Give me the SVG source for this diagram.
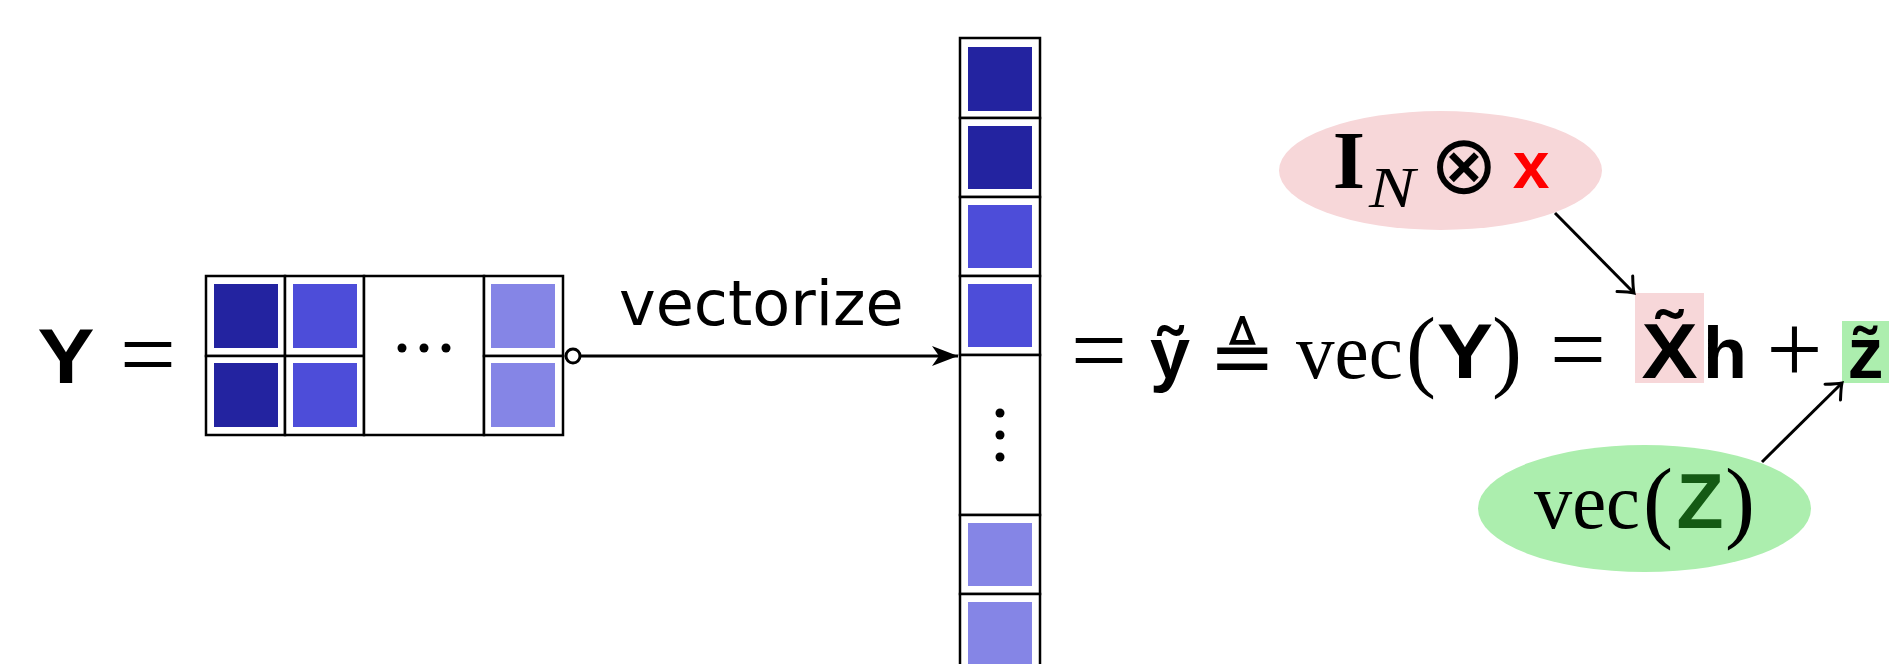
<svg xmlns="http://www.w3.org/2000/svg" width="1896" height="664" viewBox="0 0 1896 664">
<style>
.sb{font-family:"Liberation Sans",Arial,sans-serif;font-weight:bold}
.rm{font-family:"Liberation Serif","Times New Roman",serif}
.op{font-family:"Liberation Serif","Times New Roman",serif;font-size:100px;text-anchor:middle}
.cell{fill:#fff;stroke:#000;stroke-width:2.5}
.d{fill:#2323A0}.m{fill:#4D4DD9}.l{fill:#8585E6}
.dot{fill:#000}
.mid{text-anchor:middle}
</style>
<defs>
<marker id="stealth" markerUnits="userSpaceOnUse" markerWidth="30" markerHeight="24" viewBox="-27 -12 30 24" refX="0" refY="0" orient="auto">
<path d="M0,0 L-26,-10 L-19,0 L-26,10 Z" fill="#000"/>
</marker>
<marker id="to" markerUnits="userSpaceOnUse" markerWidth="20" markerHeight="28" viewBox="-16 -14 20 28" refX="0" refY="0" orient="auto">
<path d="M-13,-11 Q-4,-2.5 0,0 Q-4,2.5 -13,11" fill="none" stroke="#000" stroke-width="3" stroke-linecap="round"/>
</marker>
</defs>
<rect width="1896" height="664" fill="#fff"/>

<g id="lhs">
<text class="sb mid" x="66" y="383" font-size="78" textLength="57" lengthAdjust="spacingAndGlyphs">Y</text>
<text class="op" x="148" y="388">=</text>
</g>

<g id="matrix">
<rect class="cell" x="206" y="276" width="79" height="80"/>
<rect class="cell" x="285" y="276" width="79" height="80"/>
<rect class="cell" x="206" y="356" width="79" height="79"/>
<rect class="cell" x="285" y="356" width="79" height="79"/>
<rect class="cell" x="364" y="276" width="120" height="159"/>
<rect class="cell" x="484" y="276" width="79" height="80"/>
<rect class="cell" x="484" y="356" width="79" height="79"/>
<rect class="d" x="214" y="284" width="64" height="64"/>
<rect class="d" x="214" y="363" width="64" height="64"/>
<rect class="m" x="293" y="284" width="64" height="64"/>
<rect class="m" x="293" y="363" width="64" height="64"/>
<rect class="l" x="491" y="284" width="64" height="64"/>
<rect class="l" x="491" y="363" width="64" height="64"/>
<circle class="dot" cx="402" cy="348" r="4.5"/>
<circle class="dot" cx="424" cy="348" r="4.5"/>
<circle class="dot" cx="446" cy="348" r="4.5"/>
</g>

<g id="label-vectorize">
<text x="619" y="325" font-family="'DejaVu Sans',sans-serif" font-size="62">vectorize</text>
</g>

<g id="column">
<rect class="cell" x="960" y="38" width="80" height="80"/>
<rect class="cell" x="960" y="118" width="80" height="79"/>
<rect class="cell" x="960" y="197" width="80" height="79"/>
<rect class="cell" x="960" y="276" width="80" height="79"/>
<rect class="cell" x="960" y="355" width="80" height="160"/>
<rect class="cell" x="960" y="515" width="80" height="79"/>
<rect class="cell" x="960" y="594" width="80" height="79"/>
<rect class="d" x="968" y="47" width="64" height="64"/>
<rect class="d" x="968" y="126" width="64" height="63"/>
<rect class="m" x="968" y="205" width="64" height="63"/>
<rect class="m" x="968" y="284" width="64" height="63"/>
<rect class="l" x="968" y="523" width="64" height="63"/>
<rect class="l" x="968" y="602" width="64" height="63"/>
<circle class="dot" cx="1000" cy="413" r="4.5"/>
<circle class="dot" cx="1000" cy="435" r="4.5"/>
<circle class="dot" cx="1000" cy="457" r="4.5"/>
</g>

<g id="equation">
<text class="op" x="1099" y="384">=</text>
<text class="sb mid" x="1170" y="378" font-size="72">ỹ</text>
<text class="mid" x="1242" y="384" font-family="'DejaVu Sans',sans-serif" font-size="80">≜</text>
<text class="rm" x="1296" y="378" font-size="78" textLength="107" lengthAdjust="spacingAndGlyphs">vec</text>
<text class="rm mid" x="1421" y="380" font-size="90">(</text>
<text class="sb mid" x="1465" y="378" font-size="78" textLength="56" lengthAdjust="spacingAndGlyphs">Y</text>
<text class="rm mid" x="1507" y="380" font-size="90">)</text>
<text class="op" x="1578" y="383">=</text>
</g>

<g id="node-Xtilde">
<rect x="1635" y="293" width="69" height="90" fill="#F7D7D9"/>
<text class="sb mid" transform="translate(1669.5,378) scale(1.08,1)" x="0" y="0" font-size="78">X̃</text>
</g>

<g id="h-plus">
<text class="sb mid" x="1725" y="378" font-size="72">h</text>
<text class="op" x="1794.5" y="383">+</text>
</g>

<g id="node-ztilde">
<rect x="1842" y="321" width="47" height="62" fill="#ACEEAE"/>
<text class="sb mid" x="1865.5" y="378" font-size="72">z̃</text>
</g>

<g id="node-kron">
<ellipse cx="1440.5" cy="170.5" rx="161.5" ry="59.5" fill="#F7D7D9"/>
<text class="rm mid" x="1349" y="188" font-size="83" font-weight="bold">I</text>
<text class="rm mid" x="1392" y="207" font-size="58" font-style="italic" textLength="46" lengthAdjust="spacingAndGlyphs">N</text>
<text class="mid" x="1464" y="192.5" font-family="'DejaVu Sans',sans-serif" font-size="82">⊗</text>
<text class="sb mid" x="1531" y="188" font-size="66" fill="#FF0000">x</text>
</g>

<g id="node-vecZ">
<ellipse cx="1644.5" cy="508.5" rx="166.5" ry="63.5" fill="#ACEEAE"/>
<text class="rm" x="1534" y="528" font-size="78" textLength="106" lengthAdjust="spacingAndGlyphs">vec</text>
<text class="rm mid" x="1658" y="531" font-size="90">(</text>
<text class="sb mid" x="1700" y="528" font-size="77" fill="#145A14">Z</text>
<text class="rm mid" x="1740" y="531" font-size="90">)</text>
</g>

<g id="connectors" fill="none" stroke="#000" stroke-width="3">
<line x1="580" y1="356" x2="958" y2="356" marker-end="url(#stealth)"/>
<circle cx="573" cy="356" r="7" fill="#fff"/>
<line x1="1555" y1="213" x2="1634" y2="293" marker-end="url(#to)"/>
<line x1="1762" y1="462" x2="1842" y2="383" marker-end="url(#to)"/>
</g>
</svg>
